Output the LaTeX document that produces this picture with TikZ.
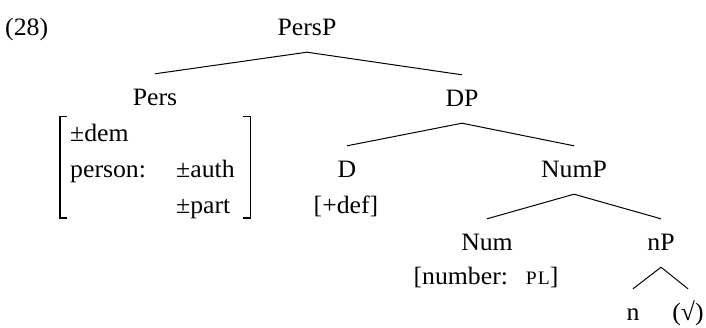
\documentclass[tikz,border=0pt]{standalone}
\usepackage{fontspec}
\setmainfont{Liberation Serif}[FakeStretch=1.03]
\begin{document}
\begin{tikzpicture}[x=1pt,y=-1pt,
  font=\fontsize{25}{29}\selectfont,
  lab/.style={anchor=base, inner xsep=0pt, inner ysep=12pt, text height=19pt, text depth=5pt},
  feat/.style={anchor=base, inner sep=0pt},
  branch/.style={line width=1pt},
  bracket/.style={line width=1.5pt}]
\useasboundingbox (0,0) rectangle (706,327);
\node[feat, anchor=base west] (ex) at (5,35) {(28)};
\node[lab] (persp) at (307,35) {PersP};
\node[lab] (pers) at (155,105) {Pers};
\node[lab] (dp) at (462,106) {DP};
\node[lab] (d) at (347,177) {D};
\node[lab] (nump) at (574,177) {NumP};
\node[lab] (num) at (487,250) {Num};
\node[lab] (np) at (661,250) {nP};
\node[lab] (n) at (633,320) {n};
\node[lab] (root) at (688,320) {(√)};
\node[feat] (def) at (346,213) {[+def]};
\node[feat] (numf) at (486,284) {[number:\hspace{18pt}{\fontsize{19}{19}\selectfont P\kern1ptL}]};
\node[anchor=base west, inner xsep=10pt, inner ysep=0pt] (avm) at (60,141)
  {\fontsize{25}{36}\selectfont\begin{tabular}[t]{@{}l@{}l@{}}
   ±dem & \\
   \makebox[106pt][l]{person:} & \makebox[64pt][l]{±auth} \\
   & ±part
   \end{tabular}};
\draw[bracket] ([xshift=7pt,yshift=-1pt]avm.north west) -- ([yshift=-1pt]avm.north west)
  -- ([yshift=6pt]avm.south west) -- ([xshift=7pt,yshift=6pt]avm.south west);
\draw[bracket] ([xshift=-7pt,yshift=-1pt]avm.north east) -- ([yshift=-1pt]avm.north east)
  -- ([yshift=6pt]avm.south east) -- ([xshift=-7pt,yshift=6pt]avm.south east);
\draw[branch] (persp.south) -- (pers.north);
\draw[branch] (persp.south) -- (dp.north);
\draw[branch] (dp.south) -- (d.north);
\draw[branch] (dp.south) -- (nump.north);
\draw[branch] (nump.south) -- (num.north);
\draw[branch] (nump.south) -- (np.north);
\draw[branch] (np.south) -- (n.north);
\draw[branch] (np.south) -- (root.north);
\end{tikzpicture}
\end{document}
